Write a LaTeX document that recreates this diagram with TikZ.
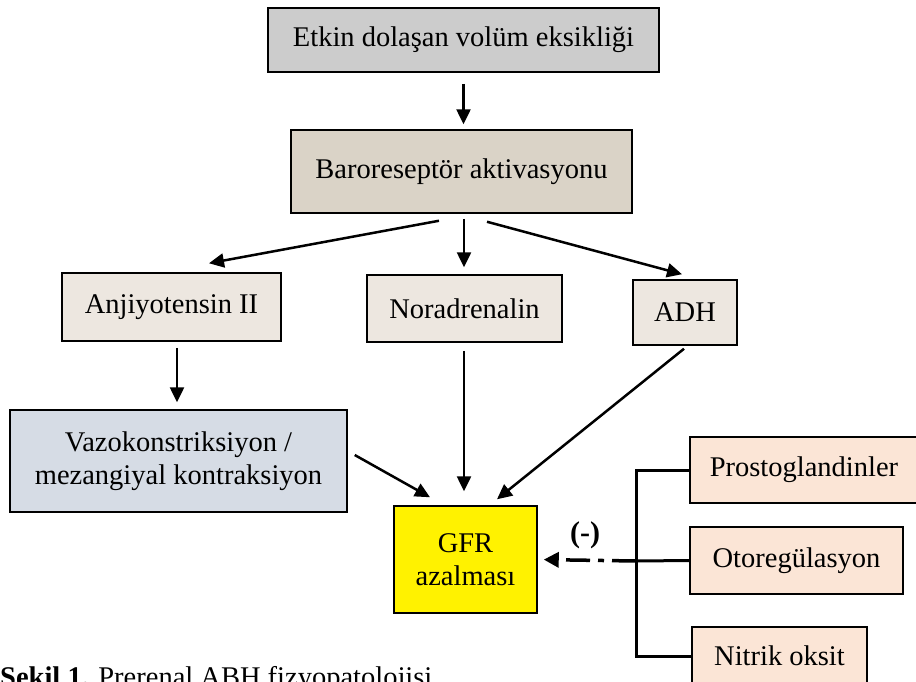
\documentclass[tikz,border=0pt]{standalone}
\usepackage{fontspec}
\setmainfont{Liberation Serif}
\usepackage{tikz}
\usetikzlibrary{arrows.meta}
\definecolor{boxgray}{RGB}{204,204,204}
\definecolor{boxtan}{RGB}{218,211,199}
\definecolor{boxlight}{RGB}{237,231,224}
\definecolor{boxblue}{RGB}{214,220,229}
\definecolor{boxpeach}{RGB}{251,229,214}

\begin{document}
\begin{tikzpicture}[x=1pt, y=-1pt,
		kutu/.style={draw=black, line width=1.5pt, inner sep=0pt, align=center,
			font=\fontsize{28.5}{33}\selectfont},
		ok/.style={line width=2.5pt, -{Triangle[length=15pt,width=14pt]}},
		kol/.style={line width=3pt},
		eksi/.style={line width=3.5pt, dash pattern=on 24pt off 8pt on 6pt off 8pt,
			-{Triangle[length=15pt,width=15pt]}}]
		%%%%% START %%%%%
		\useasboundingbox (0, 0) rectangle (916, 681);
		
		\node[kutu, fill=boxgray, minimum width=391pt, minimum height=64pt] (etkin) at (463.5, 40) {Etkin dolaşan volüm eksikliği};
		\node[kutu, fill=boxtan, minimum width=341pt, minimum height=83pt] (baro) at (461.5, 171.5) {Baroreseptör aktivasyonu};
		
		\node[kutu, fill=boxlight, minimum width=219pt, minimum height=68pt] (anji) at (171.5, 307) {Anjiyotensin II};
		\node[kutu, fill=boxlight, minimum width=195pt, minimum height=67pt] (nora) at (464.5, 308.5) {Noradrenalin};
		\node[kutu, fill=boxlight, minimum width=104pt, minimum height=65pt] (adh) at (685, 312.5) {ADH};
		
		\node[kutu, fill=boxblue, minimum width=337pt, minimum height=102pt] (vazo) at (178.5, 461) {Vazokonstriksiyon /\\mezangiyal kontraksiyon};
		\node[kutu, fill=yellow, minimum width=143pt, minimum height=107pt] (gfr) at (465.5, 559.5) {GFR\\azalması};
		
		\node[kutu, fill=boxpeach, minimum width=228pt, minimum height=66pt] (prosto) at (804, 470) {Prostoglandinler};
		\node[kutu, fill=boxpeach, minimum width=213pt, minimum height=67pt] (otoreg) at (796.5, 560.5) {Otoregülasyon};
		\node[kutu, fill=boxpeach, minimum width=175pt, minimum height=58pt] (nitrik) at (779.5, 656) {Nitrik oksit};
		
		% oklar
		\draw[ok] ([yshift=-11pt]etkin.south) -- ([xshift=2pt, yshift=5pt]baro.north);
		\draw[ok] ([xshift=-22.5pt, yshift=-7pt]baro.south) -- ([xshift=37.5pt, yshift=9pt]anji.north);
		\draw[ok] ([xshift=2.5pt, yshift=-5pt]baro.south) -- ([xshift=-0.5pt, yshift=7pt]nora.north);
		\draw[ok] ([xshift=25.5pt, yshift=-8pt]baro.south) -- ([xshift=-3pt, yshift=5pt]adh.north);
		\draw[ok] ([xshift=5.5pt, yshift=-6pt]anji.south) -- ([xshift=-1.5pt, yshift=7pt]vazo.north);
		\draw[ok] ([xshift=7pt, yshift=6pt]vazo.east) -- ([xshift=-35.5pt, yshift=8pt]gfr.north);
		\draw[ok] ([xshift=-0.5pt, yshift=-8pt]nora.south) -- ([xshift=-1.5pt, yshift=14pt]gfr.north);
		\draw[ok] ([xshift=-1pt, yshift=-3pt]adh.south) -- ([xshift=31.5pt, yshift=6pt]gfr.north);
		
		% parantez
		\coordinate (kose) at (636, 561);
		\draw[kol] (prosto.west) -| (kose) |- (nitrik.west);
		\draw[kol] (otoreg.west) -- (kose);
		\draw[eksi, shorten >=6pt] (kose) -- (gfr.east);
		\node[font=\fontsize{30}{33}\selectfont\bfseries] (eksiyazi) at (585, 535) {(-)};
		
		\node[anchor=base west, inner sep=0pt, font=\fontsize{28.5}{33}\selectfont] (sekil) at (0, 686) {\textbf{Şekil 1.} Prerenal ABH fizyopatolojisi};
		%%%%% END %%%%%
\end{tikzpicture}
\end{document}
